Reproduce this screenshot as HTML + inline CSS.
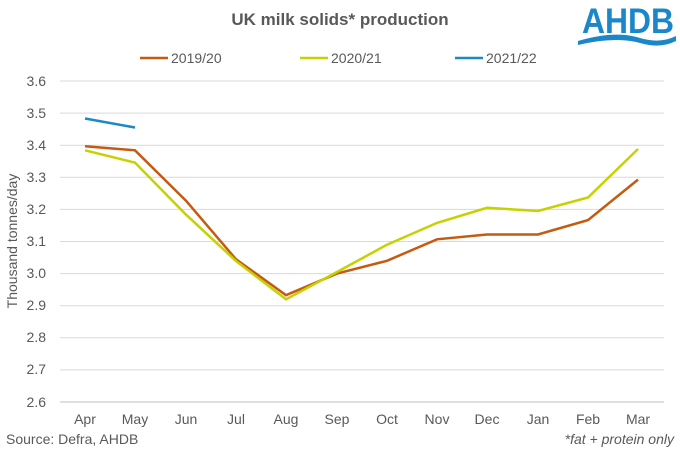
<!DOCTYPE html><html><head><style>body{margin:0;background:#fff}svg{display:block}text{font-family:"Liberation Sans",sans-serif}</style></head><body>
<svg width="680" height="454" xmlns="http://www.w3.org/2000/svg">
<rect width="680" height="454" fill="#fff"/>
<text x="340" y="25" text-anchor="middle" font-size="17" font-weight="bold" fill="#595959">UK milk solids* production</text>
<text x="582" y="33" font-size="35" font-weight="bold" fill="#1b87c9" textLength="92" lengthAdjust="spacingAndGlyphs">AHDB</text>
<path d="M578,41 Q615,30 640,38 Q660,44 676,36 L676,41 Q660,49 640,43 Q615,36 578,45 Z" fill="#1b87c9"/>
<g font-size="14" fill="#595959">
<line x1="140" y1="58" x2="168" y2="58" stroke="#c55a11" stroke-width="2.5"/><text x="171" y="63">2019/20</text>
<line x1="300" y1="58" x2="328" y2="58" stroke="#c5d200" stroke-width="2.5"/><text x="331" y="63">2020/21</text>
<line x1="455" y1="58" x2="483" y2="58" stroke="#1b8ac4" stroke-width="2.5"/><text x="486" y="63">2021/22</text>
</g>
<g stroke="#d9d9d9" stroke-width="1">
<line x1="60" x2="664" y1="81" y2="81"/><line x1="60" x2="664" y1="113.1" y2="113.1"/><line x1="60" x2="664" y1="145.2" y2="145.2"/><line x1="60" x2="664" y1="177.3" y2="177.3"/><line x1="60" x2="664" y1="209.4" y2="209.4"/><line x1="60" x2="664" y1="241.5" y2="241.5"/><line x1="60" x2="664" y1="273.6" y2="273.6"/><line x1="60" x2="664" y1="305.7" y2="305.7"/><line x1="60" x2="664" y1="337.8" y2="337.8"/><line x1="60" x2="664" y1="369.9" y2="369.9"/>
</g>
<line x1="60" x2="664" y1="402" y2="402" stroke="#bfbfbf"/>
<g font-size="14" fill="#595959" text-anchor="end">
<text x="46" y="86">3.6</text><text x="46" y="118">3.5</text><text x="46" y="150">3.4</text><text x="46" y="182">3.3</text><text x="46" y="214">3.2</text><text x="46" y="246">3.1</text><text x="46" y="278">3.0</text><text x="46" y="310">2.9</text><text x="46" y="342">2.8</text><text x="46" y="374">2.7</text><text x="46" y="407">2.6</text>
</g>
<text transform="translate(17,241) rotate(-90)" text-anchor="middle" font-size="14" fill="#595959">Thousand  tonnes/day</text>
<g font-size="14" fill="#595959" text-anchor="middle">
<text x="85" y="424">Apr</text><text x="135" y="424">May</text><text x="186" y="424">Jun</text><text x="236" y="424">Jul</text><text x="286" y="424">Aug</text><text x="337" y="424">Sep</text><text x="387" y="424">Oct</text><text x="437" y="424">Nov</text><text x="487" y="424">Dec</text><text x="538" y="424">Jan</text><text x="588" y="424">Feb</text><text x="638" y="424">Mar</text>
</g>
<text x="6" y="444" font-size="14" fill="#595959">Source: Defra, AHDB</text>
<text x="674" y="444" font-size="14" fill="#595959" text-anchor="end" font-style="italic">*fat + protein only</text>
<polyline fill="none" stroke="#c55a11" stroke-width="2.5" points="85,146.2 135,150.3 186,200.7 236,259.3 286,295.2 337,273.6 387,260.8 437,239.3 487,234.5 538,234.5 588,220.1 638,179.6"/>
<polyline fill="none" stroke="#c5d200" stroke-width="2.5" points="85,150.3 135,162.6 186,214.6 236,261.0 286,299.3 337,272.0 387,244.7 437,222.9 487,207.8 538,211.0 588,197.5 638,149.0"/>
<polyline fill="none" stroke="#1b8ac4" stroke-width="2.5" points="85,118.5 135,127.5"/>
</svg>
</body></html>
